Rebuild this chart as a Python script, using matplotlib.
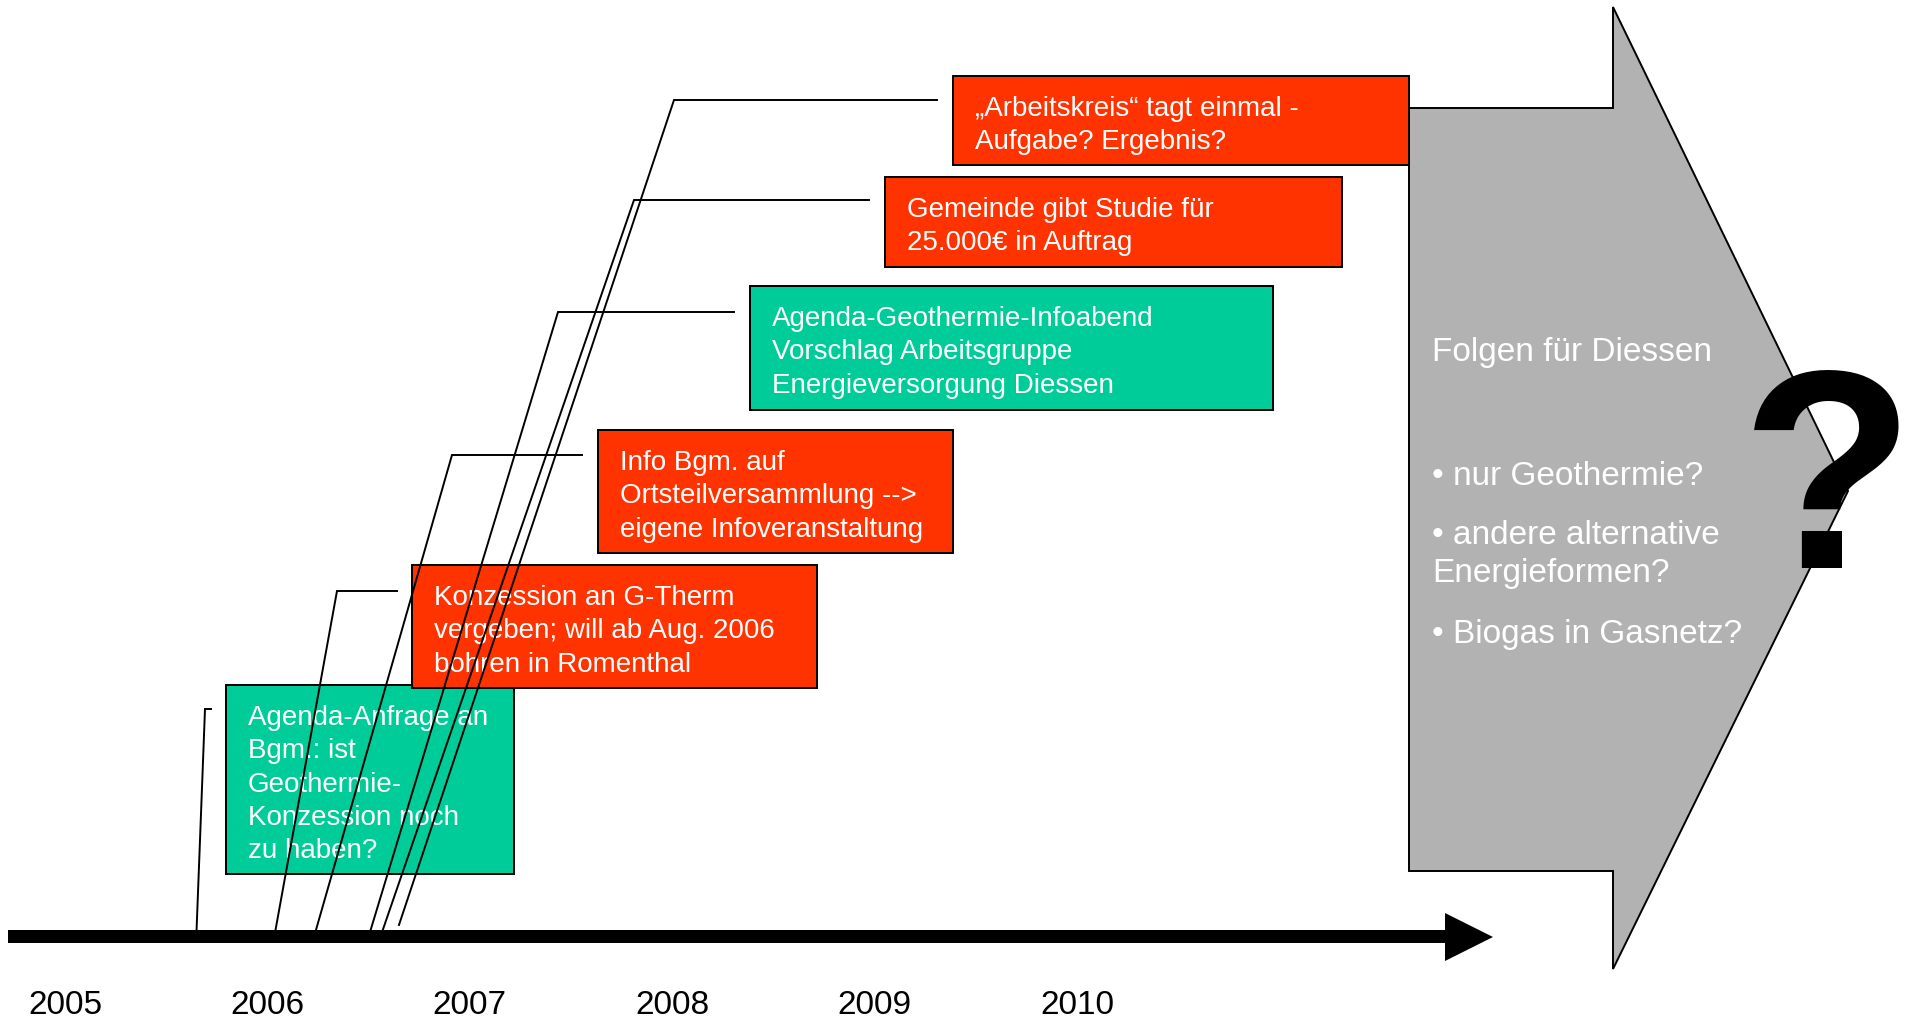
import matplotlib
matplotlib.use("Agg")
import matplotlib.pyplot as plt
from matplotlib.patches import Rectangle, Polygon

plt.rcParams['font.family'] = ['Liberation Sans', 'DejaVu Sans']

# ------------------------------------------------------------------ data
years = [2005, 2006, 2007, 2008, 2009, 2010]

event_texts = [
    "Agenda-Anfrage an\nBgm.: ist\nGeothermie-\nKonzession noch\nzu haben?",
    "Konzession an G-Therm\nvergeben; will ab Aug. 2006\nbohren in Romenthal",
    "Info Bgm. auf\nOrtsteilversammlung -->\neigene Infoveranstaltung",
    "Agenda-Geothermie-Infoabend\nVorschlag Arbeitsgruppe\nEnergieversorgung Diessen",
    "Gemeinde gibt Studie für\n25.000€ in Auftrag",
    "„Arbeitskreis“ tagt einmal -\nAufgabe? Ergebnis?",
]
event_kind = ["agenda", "gemeinde", "gemeinde", "agenda", "gemeinde", "gemeinde"]
# where each connector meets the time line (in years)
event_dates = [2005.65, 2006.04, 2006.24, 2006.51, 2006.57, 2006.65]

outlook_title = "Folgen für Diessen"
outlook_points = ["• nur Geothermie?", "• andere alternative\nEnergieformen?", "• Biogas in Gasnetz?"]

# ------------------------------------------------------------------ layout (pixels)
W, H = 1916, 1019
kind_colors = {"agenda": "#00CC99", "gemeinde": "#FF3300"}
year_x0, year_step = 65, 202.4          # x of 2005 label, px per year

# box rectangles x0, y0, x1, y1
boxes = [(226, 685, 514, 874), (412, 565, 817, 688), (598, 430, 953, 553),
         (750, 286, 1273, 410), (885, 177, 1342, 267), (953, 76, 1409, 165)]
# connector: knee (x, y) and end of horizontal stub
knees = [(205, 709), (337, 591), (452, 455), (558, 312), (634, 200), (674, 100)]
stub_end = [211, 397, 582, 734, 869, 937]
line_bottom = [930, 930, 930, 930, 930, 925]


def year_px(y):
    return year_x0 + (y - 2005) * year_step


fig = plt.figure(figsize=(W / 100, H / 100), dpi=100)
ax = fig.add_axes([0, 0, 1, 1])
ax.set_xlim(0, W)
ax.set_ylim(H, 0)
ax.axis('off')

# gray outlook arrow
gray = Polygon([(1409, 108), (1613, 108), (1613, 7), (1848, 491), (1613, 969),
                (1613, 871), (1409, 871)], closed=True, facecolor='#B2B2B2',
               edgecolor='black', lw=1.4, zorder=1)
ax.add_patch(gray)
ax.text(1432, 361, outlook_title, color='white', fontsize=24, va='baseline', zorder=2)
for txt, yb in zip(outlook_points, [485, 544, 643]):
    for i, line in enumerate(txt.split("\n")):
        ax.text(1432, yb + 38 * i, line, color='white', fontsize=24, va='baseline', zorder=2)

# event boxes
for k, (txt, kind, (x0, y0, x1, y1)) in enumerate(zip(event_texts, event_kind, boxes)):
    z = 3 + k
    ax.add_patch(Rectangle((x0, y0), x1 - x0, y1 - y0, facecolor=kind_colors[kind],
                           edgecolor='black', lw=1.4, zorder=z))
    for i, line in enumerate(txt.split("\n")):
        ax.text(x0 + 22, y0 + 40 + 33.3 * i, line, color='white', fontsize=20,
                va='baseline', zorder=z + 0.5)

# connectors
for d, (kx, ky), se, yb in zip(event_dates, knees, stub_end, line_bottom):
    ax.plot([year_px(d), kx, se], [yb, ky, ky], color='black', lw=1.4,
            solid_joinstyle='miter', zorder=20)

# time line arrow
ax.add_patch(Polygon([(8, 930), (1445, 930), (1445, 913), (1493, 937), (1445, 961),
                      (1445, 943), (8, 943)], closed=True, facecolor='black',
                     edgecolor='none', zorder=21))

for y in years:
    ax.text(year_px(y), 1014, str(y), fontsize=24, ha='center', va='baseline', color='black')

# question mark at the right edge, kept inside the figure
qm = ax.text(W - 1, 568, "?", fontsize=205, fontweight='bold', color='black',
             ha='right', va='baseline', zorder=22)
fig.canvas.draw()
bb = qm.get_window_extent()
qm.set_x(W - 1 - (bb.x1 - (W - 1)))

fig.savefig("out.png", dpi=100)
